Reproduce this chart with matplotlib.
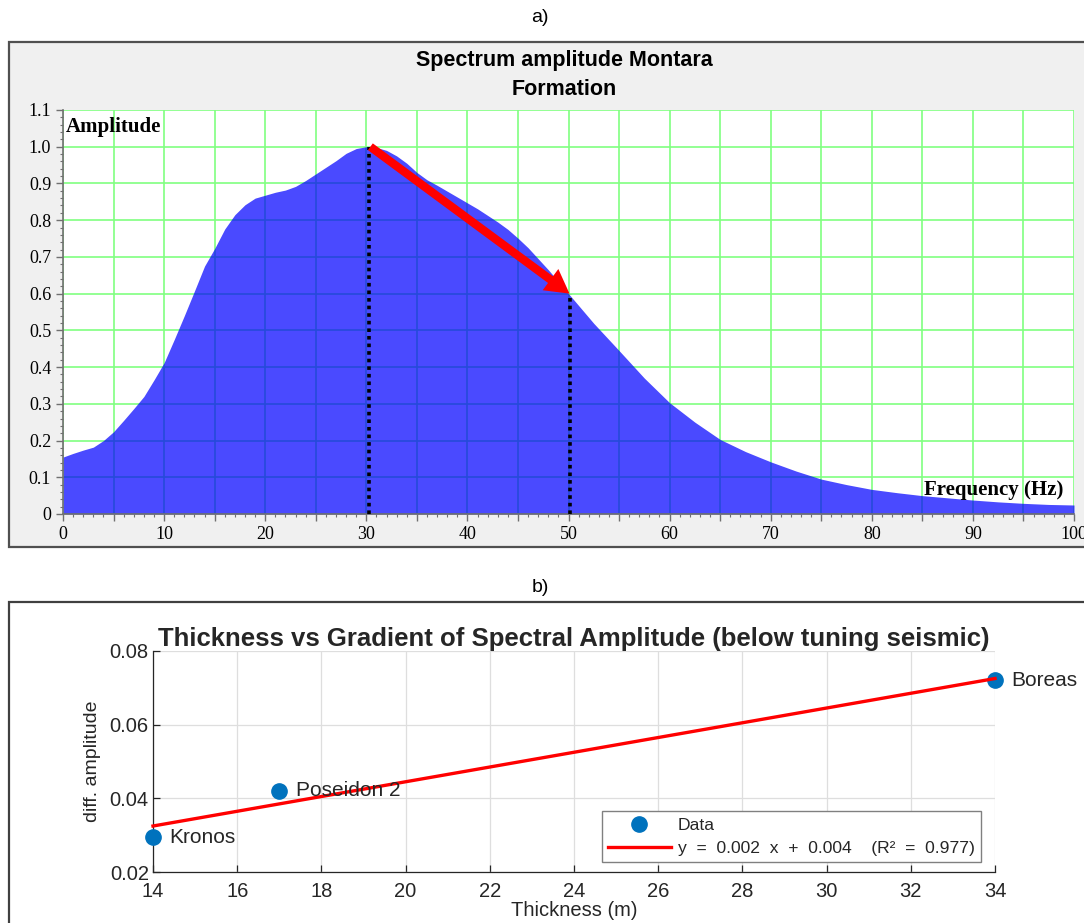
import matplotlib
matplotlib.use("Agg")
import matplotlib.pyplot as plt
import numpy as np
from matplotlib.patches import Rectangle
from matplotlib.ticker import MultipleLocator

# ---- panel a) spectrum amplitude (read off the picture) ----
freq = [0, 1, 2, 3, 4, 5, 6, 7, 8, 9, 10, 11, 12, 13, 14, 15, 16, 17, 18, 19,
        20, 21, 22, 23, 24, 25, 26, 27, 28, 29, 30, 31, 32, 33, 34, 35, 36, 37,
        38, 39, 40, 41, 42, 43, 44, 45, 46, 47, 48, 49, 50, 52.5, 55, 57.5, 60,
        62.5, 65, 67.5, 70, 72.5, 75, 77.5, 80, 82.5, 85, 87.5, 90, 92.5, 95,
        97.5, 100]
amp = [0.155, 0.165, 0.174, 0.182, 0.200, 0.224, 0.255, 0.287, 0.320, 0.365,
       0.412, 0.475, 0.540, 0.607, 0.675, 0.723, 0.776, 0.815, 0.842, 0.860,
       0.868, 0.876, 0.882, 0.892, 0.908, 0.926, 0.944, 0.962, 0.982, 0.995,
       1.000, 0.998, 0.990, 0.975, 0.955, 0.930, 0.910, 0.895, 0.879, 0.863,
       0.847, 0.831, 0.813, 0.795, 0.775, 0.751, 0.725, 0.695, 0.665, 0.633,
       0.600, 0.519, 0.445, 0.370, 0.303, 0.250, 0.203, 0.170, 0.142, 0.117,
       0.095, 0.080, 0.067, 0.058, 0.050, 0.044, 0.038, 0.033, 0.029, 0.026,
       0.0245]
peak_freq = 30.3
peak_amp = 1.0
end_freq = 50.1
end_amp = 0.6

# ---- panel b) thickness vs gradient ----
wells = ["Kronos", "Poseidon 2", "Boreas"]
thickness = [14, 17, 34]
diff_amp = [0.0295, 0.042, 0.072]

W, H = 1084, 923
fig = plt.figure(figsize=(W / 100, H / 100), dpi=100)

# panel frames
fig.patches.append(Rectangle((9 / W, 1 - 547 / H), 1.2, (547 - 42) / H,
                             transform=fig.transFigure, facecolor="#f0f0f0",
                             edgecolor="#505050", lw=1.6, zorder=-10))
fig.patches.append(Rectangle((9 / W, -0.05), 1.2, 0.05 + (H - 602) / H,
                             transform=fig.transFigure, facecolor="white",
                             edgecolor="#404040", lw=1.6, zorder=-10))

fig.text(540 / W, 1 - 18 / H, "a)", ha="center", va="center",
         fontsize=14, family="Liberation Sans")
fig.text(540 / W, 1 - 587 / H, "b)", ha="center", va="center",
         fontsize=14, family="Liberation Sans")

# ---------------- a) ----------------
ax1 = fig.add_axes([63 / W, 1 - 514 / H, 1011 / W, 404 / H])
ax1.set_facecolor("white")
ax1.fill_between(freq, amp, 0, color="blue", alpha=0.71, lw=0, zorder=2)
ax1.set_xlim(0, 100)
ax1.set_ylim(0, 1.1)
ax1.set_axisbelow(True)
ax1.xaxis.set_minor_locator(MultipleLocator(1))
ax1.yaxis.set_minor_locator(MultipleLocator(0.02))
xt = np.arange(0, 101, 5)
ax1.set_xticks(xt)
ax1.set_xticklabels([str(v) if v % 10 == 0 else "" for v in xt])
yt = np.round(np.arange(0, 1.11, 0.1), 1)
ax1.set_yticks(yt)
ax1.set_yticklabels(["0"] + [f"{v:.1f}" for v in yt[1:]])
ax1.grid(True, which="major", color="#80ff80", lw=1.2)
for s in ["top", "right"]:
    ax1.spines[s].set_visible(False)
for s in ["left", "bottom"]:
    ax1.spines[s].set_color("#707070")
    ax1.spines[s].set_linewidth(1.2)
ax1.tick_params(which="major", direction="out", length=5, width=1,
                color="#707070", labelsize=13)
ax1.tick_params(which="minor", direction="out", length=2.5, width=0.8,
                color="#707070")
for lab in ax1.get_xticklabels() + ax1.get_yticklabels():
    lab.set_family("Liberation Serif")

ax1.plot([peak_freq, peak_freq], [0, peak_amp], color="black", lw=2.6,
         ls=(0, (1, 1.1)), zorder=4)
ax1.plot([end_freq, end_freq], [0, end_amp], color="black", lw=2.6,
         ls=(0, (1, 1.1)), zorder=4)
ax1.annotate("", xy=(end_freq, end_amp), xytext=(peak_freq + 0.1, peak_amp),
             arrowprops=dict(arrowstyle="simple,head_length=0.85,head_width=0.95,tail_width=0.3",
                             mutation_scale=20, fc="red", ec="none",
                             shrinkA=0, shrinkB=0), zorder=5)

ax1.text(0.3, 1.055, "Amplitude", fontsize=15, fontweight="bold",
         family="Liberation Serif", va="center", ha="left")
ax1.text(98.9, 0.065, "Frequency (Hz)", fontsize=15, fontweight="bold",
         family="Liberation Serif", va="center", ha="right", zorder=6)
fig.text(564 / W, 1 - 75 / H, "Spectrum amplitude Montara\nFormation",
         ha="center", va="center", fontsize=15.5, fontweight="bold",
         family="Liberation Sans", linespacing=1.55)

# ---------------- b) ----------------
txt = "#262626"
ax2 = fig.add_axes([153 / W, 1 - 872 / H, 842 / W, 221 / H])
slope, icpt = np.polyfit(thickness, diff_amp, 1)
xfit = np.array([min(thickness), max(thickness)])
ax2.plot(thickness, diff_amp, "o", color="#0072BD", ms=11, zorder=3,
         label="Data", clip_on=False)
ax2.plot(xfit, slope * xfit + icpt, color="red", lw=2.4, zorder=4,
         label="y  =  0.002  x  +  0.004    (R²  =  0.977)", clip_on=False)
for name, xv, yv in zip(wells, thickness, diff_amp):
    ax2.annotate(name, (xv, yv), xytext=(12, 0), textcoords="offset points",
                 va="center", ha="left", fontsize=15, color=txt,
                 family="Liberation Sans", zorder=5)
ax2.set_xlim(14, 34)
ax2.set_ylim(0.02, 0.08)
ax2.set_xticks(np.arange(14, 35, 2))
ax2.set_yticks([0.02, 0.04, 0.06, 0.08])
ax2.set_yticklabels(["0.02", "0.04", "0.06", "0.08"])
ax2.grid(True, color="#dedede", lw=0.9)
ax2.set_axisbelow(True)
for s in ["top", "right"]:
    ax2.spines[s].set_visible(False)
for s in ["left", "bottom"]:
    ax2.spines[s].set_color(txt)
    ax2.spines[s].set_linewidth(0.9)
ax2.tick_params(direction="in", length=5, width=0.9, color=txt,
                labelcolor=txt, labelsize=14.5, pad=3)
ax2.tick_params(axis="x", pad=7)
for lab in ax2.get_xticklabels() + ax2.get_yticklabels():
    lab.set_family("Liberation Sans")
ax2.set_title("Thickness vs Gradient of Spectral Amplitude (below tuning seismic)",
              fontsize=18.5, fontweight="bold", color=txt, family="Liberation Sans",
              pad=3)
ax2.set_xlabel("Thickness (m)", fontsize=14.5, color=txt,
               family="Liberation Sans", labelpad=0)
ax2.set_ylabel("diff. amplitude", fontsize=14, color=txt,
               family="Liberation Sans", labelpad=6)
leg = ax2.legend(loc="lower right", bbox_to_anchor=(0.9834, 0.045),
                 borderaxespad=0, fancybox=False, framealpha=1,
                 edgecolor="#808080", prop={"family": "Liberation Sans", "size": 12.6},
                 handlelength=3.6, handletextpad=0.4, labelspacing=0.45,
                 borderpad=0.35)
leg.get_frame().set_linewidth(1.0)
for t in leg.get_texts():
    t.set_color(txt)

fig.savefig("out.png", dpi=100)
